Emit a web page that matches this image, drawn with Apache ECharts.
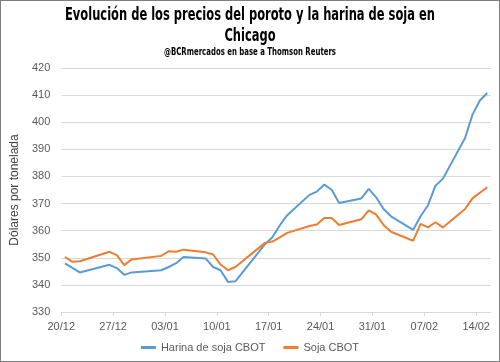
<!DOCTYPE html>
<html><head><meta charset="utf-8">
<script src="https://cdn.jsdelivr.net/npm/echarts@6/dist/echarts.min.js"></script>
<style>
html,body{margin:0;padding:0;background:#fff;}
#c{width:500px;height:362px;box-sizing:border-box;border:1px solid #7f7f7f;}
</style></head><body><div id="c"></div>
<script>
const dates = ['2017-12-20','2017-12-21','2017-12-22','2017-12-26','2017-12-27','2017-12-28','2017-12-29',
 '2018-01-02','2018-01-03','2018-01-04','2018-01-05','2018-01-08','2018-01-09','2018-01-10','2018-01-11','2018-01-12',
 '2018-01-16','2018-01-17','2018-01-18','2018-01-19','2018-01-22','2018-01-23','2018-01-24','2018-01-25','2018-01-26',
 '2018-01-29','2018-01-30','2018-01-31','2018-02-01','2018-02-02','2018-02-05','2018-02-06','2018-02-07','2018-02-08','2018-02-09',
 '2018-02-12','2018-02-13','2018-02-14','2018-02-15'];
const harinaSoja = [347.9,346.3,344.6,347.4,346.2,343.7,344.6,
 345.4,346.6,348.0,350.3,349.7,346.6,345.4,341.1,341.3,
 355.0,357.6,362.0,365.7,373.2,374.4,377.0,375.1,370.2,
 371.9,375.4,372.3,368.0,365.3,360.3,365.3,369.4,376.6,379.1,
 394.2,402.8,408.0,410.8];
const soja = [350.3,348.5,348.7,352.2,351.0,347.3,349.4,
 350.7,352.4,352.2,353.0,352.0,351.2,347.5,345.4,346.6,
 355.5,356.0,357.5,359.2,361.7,362.3,364.7,364.7,362.1,
 364.2,367.5,365.9,362.1,359.6,356.3,362.5,361.2,363.1,361.2,
 368.0,371.9,374.0,376.0];
const xTickLabels = ['20/12','27/12','03/01','10/01','17/01','24/01','31/01','07/02','14/02'];
const titleLine1 = 'Evolución de los precios del poroto y la harina de soja en';
const titleLine2 = 'Chicago';
const subtitle = '@BCRmercados en base a Thomson Reuters';

const t0 = Date.parse(dates[0]);
const dayOf = d => Math.round((Date.parse(d) - t0) / 86400000);
const tickVals = xTickLabels.map((_, i) => i * 7);
const mk = arr => arr.map((v, i) => [dayOf(dates[i]) + 0.5, v]);

const TF = '"DejaVu Sans Condensed", "DejaVu Sans", sans-serif';
const cv = document.createElement('canvas').getContext('2d');
function widthOf(text, size) { cv.font = 'bold ' + size + 'px ' + TF; return cv.measureText(text).width; }
const tSize = 18, sSize = 11;
const tScale = 370 / widthOf(titleLine1, tSize);
const sScale = 172 / widthOf(subtitle, sSize);
const W = 498;

function tText(text, y, size, scale) {
  return {type: 'text', x: W / 2, y: y, scaleX: scale, originX: 0, silent: true,
    style: {text: text, font: 'bold ' + size + 'px ' + TF, fill: '#000', align: 'center', verticalAlign: 'middle'}};
}

const chart = echarts.init(document.getElementById('c'), null, {renderer: 'canvas'});
chart.setOption({
  animation: false,
  graphic: [
    tText(titleLine1, 14, tSize, tScale),
    tText(titleLine2, 35, tSize, tScale),
    tText(subtitle, 51, sSize, sScale)
  ],
  grid: {left: 53, right: 8, top: 67, bottom: 49, containLabel: false},
  legend: {
    bottom: 3, left: 'center', icon: 'rect', itemWidth: 15, itemHeight: 3, itemGap: 18,
    textStyle: {fontFamily: 'Liberation Sans', fontSize: 11, color: '#595959'},
    data: ['Harina de soja CBOT', 'Soja CBOT']
  },
  xAxis: {
    type: 'value', min: 0, max: 58, interval: 7,
    axisLine: {show: true, lineStyle: {color: '#d9d9d9'}},
    axisTick: {show: true, length: 4, lineStyle: {color: '#d9d9d9'}, customValues: tickVals},
    axisLabel: {customValues: tickVals, color: '#595959', fontFamily: 'Liberation Sans', fontSize: 11, margin: 9,
      formatter: v => xTickLabels[Math.round(v / 7)] || ''},
    splitLine: {show: false}
  },
  yAxis: {
    type: 'value', min: 330, max: 420, interval: 10,
    name: 'Dólares por tonelada', nameLocation: 'middle', nameGap: 36,
    nameTextStyle: {fontFamily: 'Liberation Sans', fontSize: 12, color: '#404040'},
    axisLine: {show: false}, axisTick: {show: false},
    axisLabel: {color: '#595959', fontFamily: 'Liberation Sans', fontSize: 11, margin: 11},
    splitLine: {lineStyle: {color: '#d9d9d9'}}
  },
  series: [
    {name: 'Harina de soja CBOT', type: 'line', data: mk(harinaSoja), showSymbol: false, symbol: 'none',
     lineStyle: {color: '#5b9bd5', width: 2}, itemStyle: {color: '#5b9bd5'}},
    {name: 'Soja CBOT', type: 'line', data: mk(soja), showSymbol: false, symbol: 'none',
     lineStyle: {color: '#ed7d31', width: 2}, itemStyle: {color: '#ed7d31'}}
  ]
});
</script></body></html>
